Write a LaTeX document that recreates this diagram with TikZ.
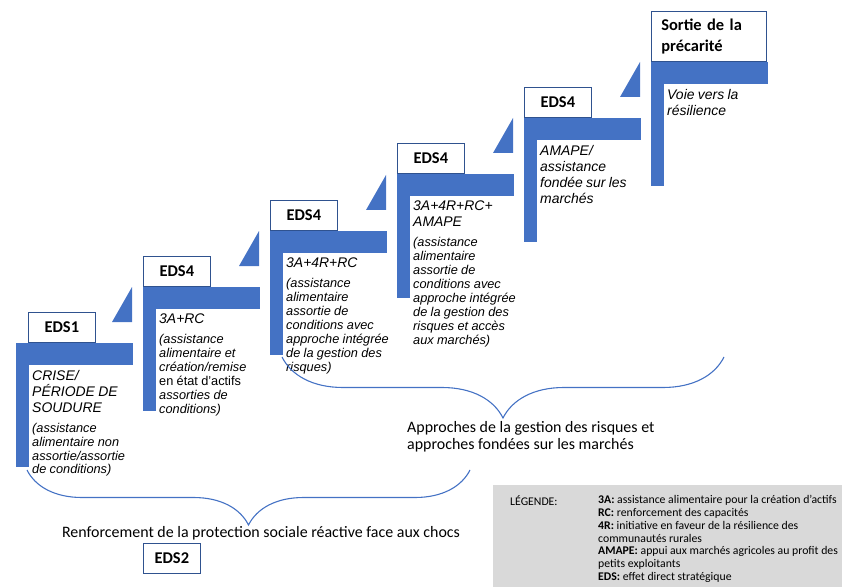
\documentclass[tikz,border=0pt]{standalone}
\usepackage{fontspec}
\setmainfont{Liberation Sans}
\newfontfamily\carlito{Carlito}
\usetikzlibrary{decorations.pathreplacing,positioning}
\definecolor{stairblue}{HTML}{4472C4}
\definecolor{boxline}{HTML}{2F528F}
\definecolor{legendgrey}{HTML}{D9D9D9}
\newcommand{\stair}[2]{%
  \fill[stairblue] (#1,#2) rectangle ++(117,22);
  \fill[stairblue] (#1,#2) rectangle ++(12.5,124);
}
\newcommand{\riser}[2]{%
  \fill[stairblue] (#1+96,#2-21) -- (#1+116,#2-21) -- (#1+116,#2-56) -- cycle;
}
\newcommand{\stephead}{\fontsize{14}{16}\selectfont}
\newcommand{\stepbody}{\fontsize{12.8}{14}\selectfont}

\begin{document}
\begin{tikzpicture}[x=1bp,y=-1bp,every node/.style={inner sep=0pt},
  eds/.style={draw=boxline,line width=0.7pt,fill=white,anchor=south west,
    font=\carlito\bfseries\fontsize{16.5}{20.5}\selectfont,
    minimum height=30bp,minimum width=67bp},
  stairtext/.style={anchor=north west,text width=125bp,align=left,font=\itshape},
  bracetext/.style={font=\carlito\fontsize{16}{17.5}\selectfont},
  legendtext/.style={anchor=north west,align=left,font=\carlito\fontsize{11.8}{12.9}\selectfont},
  curly/.style={draw=stairblue,line width=1.1pt,decorate,decoration={brace,mirror,amplitude=55bp}}]
  \useasboundingbox (0,0) rectangle (842,587);
  % steps
  \foreach \x/\y in {16/343,143/287,270/231,397/174,524/118,651/62} {\stair{\x}{\y}}
  \foreach \x/\y in {16/343,143/287,270/231,397/174,524/118} {\riser{\x}{\y}}
  \node[eds] (lab1) at (28,343) {EDS1};
  \node[eds] (lab2) at (143,287) {EDS4};
  \node[eds] (lab3) at (270,231) {EDS4};
  \node[eds] (lab4) at (397,174) {EDS4};
  \node[eds] (lab5) at (524,118) {EDS4};
  \node[eds,minimum height=50bp,text width=95bp,inner xsep=10bp,align=left] (lab6) at (651,62)
    {Sortie de la\\précarité};
  \node[stairtext] (txt1) at (32,370) {\stephead CRISE/\\PÉRIODE DE\\SOUDURE\par
    \vspace{6bp}\stepbody (assistance\\alimentaire non\\assortie/assortie\\de conditions)\par};
  \node[stairtext] (txt2) at (159,314) {\stephead 3A+RC\par
    \vspace{6bp}\stepbody (assistance\\alimentaire et\\création/remise\\{\upshape en état d’actifs}\\assorties de\\conditions)\par};
  \node[stairtext] (txt3) at (286,258) {\stephead 3A+4R+RC\par
    \vspace{6bp}\stepbody (assistance\\alimentaire\\assortie de\\conditions avec\\approche intégrée\\de la gestion des\\risques)\par};
  \node[stairtext] (txt4) at (413,201) {\stephead 3A+4R+RC+\\AMAPE\par
    \vspace{6bp}\stepbody (assistance\\alimentaire\\assortie de\\conditions avec\\approche intégrée\\de la gestion des\\risques et accès\\aux marchés)\par};
  \node[stairtext] (txt5) at (540,145) {\stephead AMAPE/\\assistance\\fondée sur les\\marchés\par};
  \node[stairtext] (txt6) at (667,89) {\stephead Voie vers la\\résilience\par};
  % braces
  \coordinate (b1l) at (27,470);
  \coordinate (b1r) at (470,470);
  \draw[curly] (b1l) -- (b1r);
  \coordinate (b2l) at (282,357);
  \coordinate (b2r) at (724,357);
  \draw[curly,decoration={amplitude=61bp}] (b2l) -- (b2r);
  \node[bracetext,anchor=north] (shocks) at (261,526)
    {Renforcement de la protection sociale réactive face aux chocs};
  \node[eds,anchor=north west,minimum width=57bp] (eds2) at (143,543) {EDS2};
  \node[bracetext,anchor=north west,align=left] (markets) at (407,421)
    {Approches de la gestion des risques et\\approches fondées sur les marchés};
  % legend
  \fill[legendgrey] (493,485) rectangle (842,587);
  \node[legendtext] (legtitle) at (510,495) {LÉGENDE:};
  \node[legendtext] (legtext) at (598,495)
    {\textbf{3A:} assistance alimentaire pour la création d’actifs\\
     \textbf{RC:} renforcement des capacités\\
     \textbf{4R:} initiative en faveur de la résilience des\\
     communautés rurales\\
     \textbf{AMAPE:} appui aux marchés agricoles au profit des\\
     petits exploitants\\
     \textbf{EDS:} effet direct stratégique};
\end{tikzpicture}
\end{document}
